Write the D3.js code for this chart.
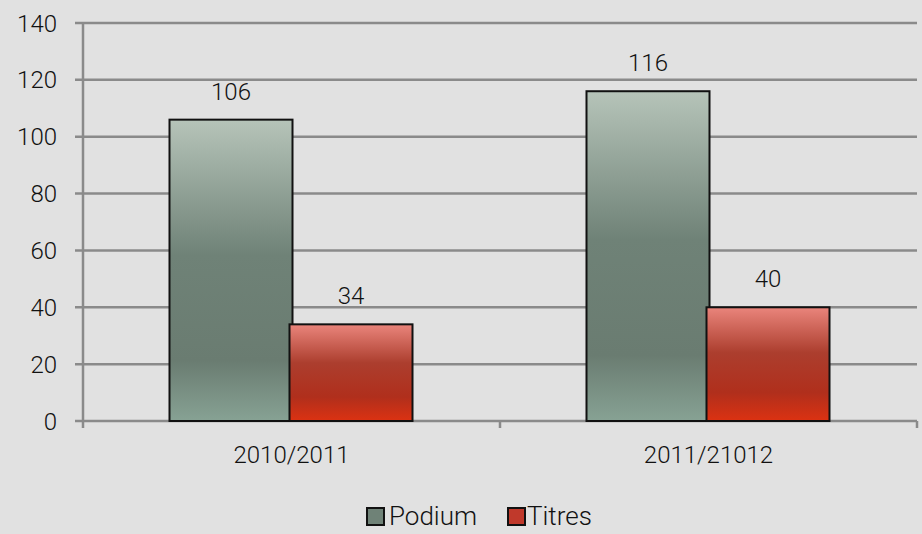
<!DOCTYPE html>
<html><head><meta charset="utf-8">
<script src="https://cdn.jsdelivr.net/npm/d3@7/dist/d3.min.js"></script>
<style>html,body{margin:0;padding:0;background:#e1e1e1;}svg{display:block;}</style>
</head><body>
<script>
const categories = ["2010/2011", "2011/21012"];
const seriesNames = ["Podium", "Titres"];
const podium = [106, 116];
const titres = [34, 40];
const yTicks = [0, 20, 40, 60, 80, 100, 120, 140];

(function () {
const W = 922, H = 534;
const font = "Roboto, 'Liberation Sans', sans-serif";
const fw = 300;
const svg = d3.select("body").append("svg").attr("width", W).attr("height", H);
svg.append("rect").attr("width", W).attr("height", H).attr("fill", "#e1e1e1");

const defs = svg.append("defs");
const g1 = defs.append("linearGradient").attr("id", "gPod").attr("x1", 0).attr("y1", 0).attr("x2", 0).attr("y2", 1);
[[0, "#b6c4b9"], [0.45, "#6f8277"], [0.8, "#6a7c71"], [1, "#87a294"]].forEach(([o, c]) => g1.append("stop").attr("offset", o).attr("stop-color", c));
const g2 = defs.append("linearGradient").attr("id", "gTit").attr("x1", 0).attr("y1", 0).attr("x2", 0).attr("y2", 1);
[[0, "#ea857c"], [0.4, "#ac3e2e"], [0.75, "#b02f1c"], [1, "#dc3212"]].forEach(([o, c]) => g2.append("stop").attr("offset", o).attr("stop-color", c));
const fills = ["url(#gPod)", "url(#gTit)"];
const legendFills = ["#6f8277", "#c0392b"];

const mLeft = 83, mRight = 917, mTop = 23, mBottom = 421;
const y = d3.scaleLinear().domain([0, 140]).range([mBottom, mTop]);
const x0 = d3.scaleBand().domain(categories).range([mLeft, mRight]).paddingInner(0).paddingOuter(0);
const barW = 123, overlap = 3;

svg.append("g").selectAll("line").data(yTicks).join("line")
  .attr("x1", mLeft - 8).attr("x2", mRight).attr("y1", d => y(d)).attr("y2", d => y(d))
  .attr("stroke", "#8a8a8a").attr("stroke-width", 2.5);
svg.append("line").attr("x1", mLeft).attr("x2", mLeft).attr("y1", mTop).attr("y2", mBottom + 7)
  .attr("stroke", "#8a8a8a").attr("stroke-width", 2.5);
const catTicks = [mLeft + x0.bandwidth(), mRight];
svg.append("g").selectAll("line").data(catTicks).join("line")
  .attr("x1", d => d).attr("x2", d => d).attr("y1", mBottom).attr("y2", mBottom + 7)
  .attr("stroke", "#8a8a8a").attr("stroke-width", 2.5);

svg.append("g").selectAll("text").data(yTicks).join("text")
  .attr("x", 57).attr("y", d => y(d)).attr("dy", "0.36em").attr("text-anchor", "end")
  .attr("font-family", font).attr("font-weight", fw).attr("font-size", 24).attr("fill", "#111").text(d => d);

const data = categories.map((c, i) => [podium[i], titres[i]]);
categories.forEach((c, i) => {
  const cx = x0(c) + x0.bandwidth() / 2;
  const starts = [cx - barW + overlap / 2 - 0.5, cx - overlap / 2 - 0.5];
  data[i].forEach((v, j) => {
    svg.append("rect").attr("x", starts[j]).attr("y", y(v)).attr("width", barW).attr("height", mBottom - y(v))
      .attr("fill", fills[j]).attr("stroke", "#111").attr("stroke-width", 2);
    svg.append("text").attr("x", starts[j] + barW / 2).attr("y", y(v) - 20).attr("text-anchor", "middle")
      .attr("font-family", font).attr("font-weight", fw).attr("font-size", 24).attr("fill", "#111").text(v);
  });
  svg.append("text").attr("x", cx).attr("y", 463).attr("text-anchor", "middle")
    .attr("font-family", font).attr("font-weight", fw).attr("font-size", 24).attr("fill", "#111").text(c);
});

const leg = svg.append("g");
const legItems = [{n: seriesNames[0], x: 367, tx: 389}, {n: seriesNames[1], x: 508, tx: 527}];
legItems.forEach((d, i) => {
  leg.append("rect").attr("x", d.x).attr("y", 508).attr("width", 17).attr("height", 17)
    .attr("fill", legendFills[i]).attr("stroke", "#111").attr("stroke-width", 2);
  leg.append("text").attr("x", d.tx).attr("y", 525).attr("font-family", font).attr("font-weight", fw)
    .attr("font-size", 26).attr("fill", "#111").text(d.n);
});
})();
</script>
</body></html>
